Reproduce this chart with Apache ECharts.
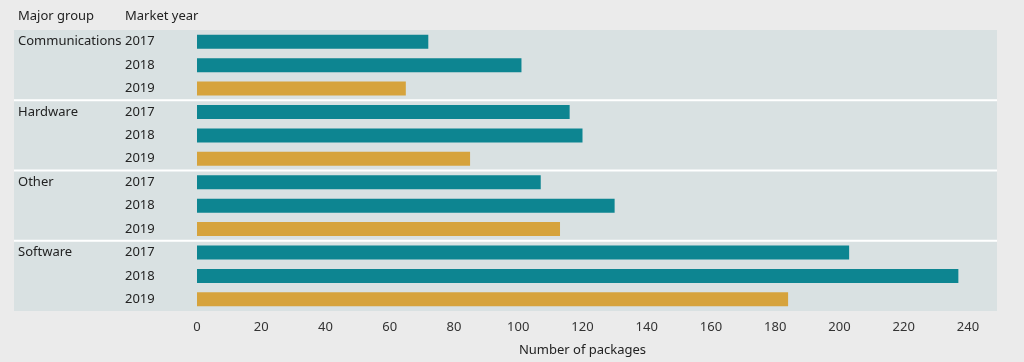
<!DOCTYPE html>
<html><head><meta charset="utf-8">
<script src="https://cdn.jsdelivr.net/npm/echarts@6/dist/echarts.min.js"></script>
<style>html,body{margin:0;padding:0;background:#ebebeb;}#c{width:1024px;height:362px;}</style>
</head><body><div id="c"></div>
<script>
const groups = ['Communications','Hardware','Other','Software'];
const years = ['2017','2018','2019'];
const values = [72, 101, 65, 116, 120, 85, 107, 130, 113, 203, 237, 184];
const xTicks = [0,20,40,60,80,100,120,140,160,180,200,220,240];
const headers = ['Major group','Market year'];
const axisTitle = 'Number of packages';

const TEAL = '#0d8591', GOLD = '#d6a33c';
const FONT = '"Source Sans Pro","Noto Sans",sans-serif';
const cats = [];
groups.forEach((g,gi)=>years.forEach((y,yi)=>cats.push({g: yi===0?g:'', y})));
const data = values.map((v,i)=>({value:v, itemStyle:{color: cats[i].y==='2019'?GOLD:TEAL}}));

const chart = echarts.init(document.getElementById('c'));
chart.setOption({
  backgroundColor:'#ebebeb',
  animation:false,
  grid:{left:197,right:56,top:30,bottom:51},
  xAxis:{type:'value',min:xTicks[0],max:xTicks[xTicks.length-1],interval:20,
    axisLine:{show:false},axisTick:{show:false},splitLine:{show:false},
    axisLabel:{color:'#333',fontFamily:FONT,fontSize:13,margin:10},
    name:axisTitle,nameLocation:'middle',nameGap:33,
    nameTextStyle:{color:'#222',fontFamily:FONT,fontSize:13}},
  yAxis:{type:'category',inverse:true,data:cats.map((c,i)=>String(i)),
    axisLine:{show:false},axisTick:{show:false},splitLine:{show:false},
    axisLabel:{align:'left',margin:179,fontFamily:FONT,fontSize:13,color:'#222',
      formatter:(v)=>{const c=cats[+v];return '{g|'+c.g+'}{y|'+c.y+'}';},
      rich:{g:{width:107,fontFamily:FONT,fontSize:13,color:'#222'},y:{fontFamily:FONT,fontSize:13,color:'#222'}}}},
  series:[{type:'bar',data:data,barWidth:14}]
});

function drawGraphics(){
  const top = chart.convertToPixel({yAxisIndex:0}, '0');
  const step = chart.convertToPixel({yAxisIndex:0}, '1') - top;
  const y0 = top - step/2, y1 = y0 + step*cats.length;
  const els = [{type:'rect',z:-10,shape:{x:14,y:y0,width:983,height:y1-y0},style:{fill:'#d9e1e2'}}];
  for(let gi=1;gi<groups.length;gi++){
    const y = y0 + step*years.length*gi;
    els.push({type:'line',z:-5,shape:{x1:14,y1:y,x2:997,y2:y},style:{stroke:'#ffffff',lineWidth:2}});
  }
  els.push({type:'text',left:18,top:10,style:{text:headers[0],fontFamily:FONT,fontSize:13,fill:'#222'}});
  els.push({type:'text',left:125,top:10,style:{text:headers[1],fontFamily:FONT,fontSize:13,fill:'#222'}});
  chart.setOption({graphic:{elements:els}});
}
drawGraphics();
</script></body></html>
